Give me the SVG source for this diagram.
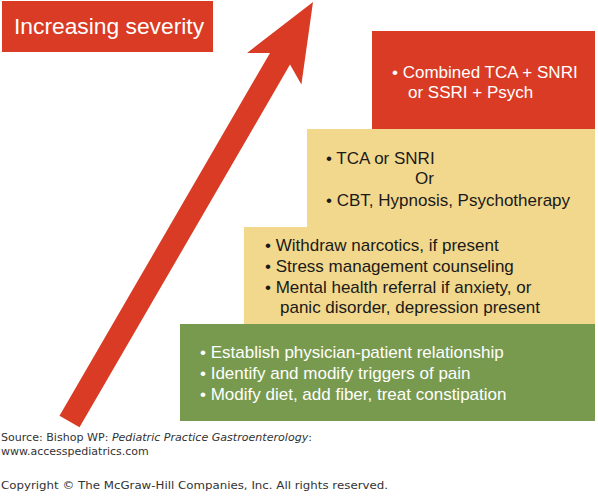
<svg xmlns="http://www.w3.org/2000/svg" width="598" height="497" viewBox="0 0 598 497">
<style>
.t{font-family:"Liberation Sans",Arial,sans-serif;font-size:17px}
.w{fill:#ffffff}
.k{fill:#1a1a1a}
.f{font-family:"DejaVu Sans",Verdana,sans-serif;font-size:11px;fill:#333333}
</style>
<rect width="598" height="497" fill="#ffffff"/>
<g id="title">
<rect x="2" y="1" width="211" height="51" fill="#d93b24"/>
<text x="14" y="34" font-family="Liberation Sans, Arial, sans-serif" font-size="22.8" fill="#ffffff">Increasing severity</text>
</g>
<g id="arrow">
<polygon points="313,2 301.4,84.6 290,64.6 79.5,427.3 59.5,415.7 270,53 247,53" fill="#d93b24"/>
</g>
<g id="step4">
<rect x="372" y="31" width="223" height="99" fill="#d93b24"/>
<text class="t w" x="392" y="78">• Combined TCA + SNRI</text>
<text class="t w" x="408" y="98">or SSRI + Psych</text>
</g>
<g id="step3">
<rect x="307" y="129" width="288" height="99" fill="#f2d88c"/>
<text class="t k" x="326" y="164">• TCA or SNRI</text>
<text class="t k" x="415" y="184">Or</text>
<text class="t k" x="326" y="206">• CBT, Hypnosis, Psychotherapy</text>
</g>
<g id="step2">
<rect x="244" y="227" width="351" height="98" fill="#f2d88c"/>
<text class="t k" x="265" y="251">• Withdraw narcotics, if present</text>
<text class="t k" x="265" y="272">• Stress management counseling</text>
<text class="t k" x="265" y="293">• Mental health referral if anxiety, or</text>
<text class="t k" x="280" y="313">panic disorder, depression present</text>
</g>
<g id="step1">
<rect x="180" y="324" width="415" height="97" fill="#789a4e"/>
<text class="t w" x="200" y="358">• Establish physician-patient relationship</text>
<text class="t w" x="200" y="379">• Identify and modify triggers of pain</text>
<text class="t w" x="200" y="400">• Modify diet, add fiber, treat constipation</text>
</g>
<g id="footer">
<text class="f" x="1" y="441" textLength="311" lengthAdjust="spacingAndGlyphs">Source: Bishop WP: <tspan font-style="italic">Pediatric Practice Gastroenterology</tspan>:</text>
<text class="f" x="1" y="455">www.accesspediatrics.com</text>
<text class="f" x="1" y="489" textLength="387" lengthAdjust="spacingAndGlyphs">Copyright © The McGraw-Hill Companies, Inc. All rights reserved.</text>
</g>
</svg>
